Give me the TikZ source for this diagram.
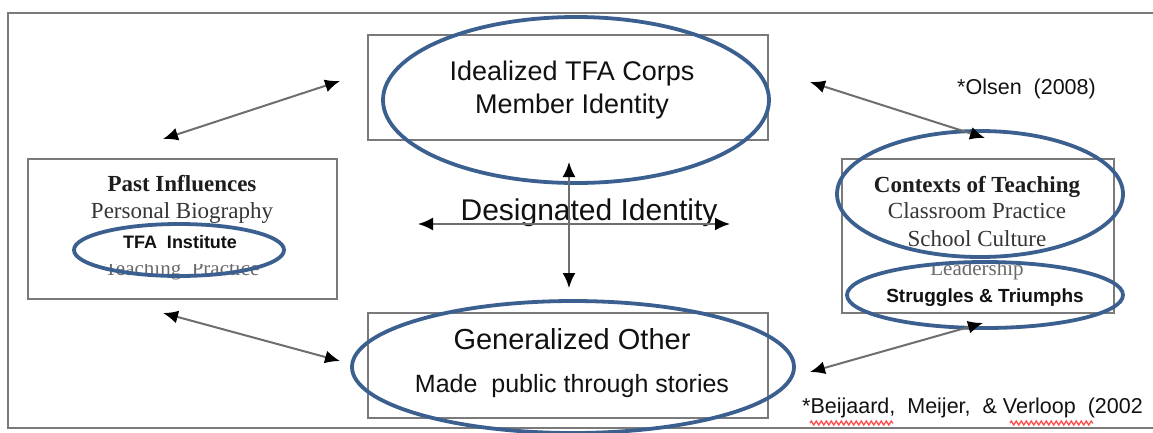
\documentclass[tikz,border=0pt]{standalone}
\usepackage{fontspec}
\setmainfont{Liberation Serif}
\setsansfont{Liberation Sans}
\usetikzlibrary{shapes.geometric,arrows.meta,decorations.pathmorphing}
\definecolor{ellblue}{HTML}{3B5F8E}
\definecolor{boxgray}{HTML}{7A7A7A}
\definecolor{argray}{HTML}{6E6E6E}
\definecolor{inkdark}{HTML}{111111}
\definecolor{serifgray}{HTML}{353535}
\definecolor{fadegray}{HTML}{6A6A6A}
\begin{document}
\begin{tikzpicture}[x=1pt,y=-1pt,
  box/.style={draw=boxgray,line width=2.6pt,rectangle,inner sep=0pt},
  ring/.style={ellipse,draw=ellblue,line width=3.8pt,inner sep=0pt},
  link/.style={draw=argray,line width=2pt,{Latex[color=black,length=15pt,width=13pt]}-{Latex[color=black,length=15pt,width=13pt]}},
  lbl/.style={inner sep=0pt,anchor=base,text=inkdark},
  big/.style={lbl,font=\sffamily\fontsize{27}{27}\selectfont},
  serifb/.style={lbl,font=\bfseries\fontsize{23}{23}\selectfont,text=inkdark!95},
  serifr/.style={lbl,font=\fontsize{23}{23}\selectfont,text=serifgray},
  small/.style={lbl,font=\sffamily\bfseries\fontsize{18}{18}\selectfont},
  cite/.style={inner sep=0pt,anchor=base west,text=inkdark,font=\sffamily\fontsize{21.5}{21.5}\selectfont},
  wavy/.style={draw=red!70,line width=1.3pt,decorate,decoration={zigzag,segment length=5pt,amplitude=2pt}}
]
\useasboundingbox (0,0) rectangle (1153,432);
\fill[white] (0,0) rectangle (1153,432);
% outer frame
\draw[boxgray,line width=2.4pt] (1160,13) -- (8,13) -- (8,428) -- (1160,428);

% boxes
\node[box,minimum width=400pt,minimum height=105pt] (topbox) at (568,87.5) {};
\node[box,minimum width=400pt,minimum height=105pt] (botbox) at (568,365.5) {};
\node[box,minimum width=309pt,minimum height=140pt] (leftbox) at (182.5,229) {};
\node[box,minimum width=272pt,minimum height=154pt] (rightbox) at (978,236) {};

% texts of the top and bottom boxes
\node[big] (t1) at (572,80) {Idealized TFA Corps};
\node[big] (t2) at (572,113) {Member Identity};
\node[big,font=\sffamily\fontsize{30}{30}\selectfont] (des) at (589,220) {Designated Identity};
\node[big,font=\sffamily\fontsize{29}{29}\selectfont] (g1) at (572,349) {Generalized Other};
\node[big,font=\sffamily\fontsize{25}{25}\selectfont] (g2) at (572,392) {Made\ \ public through stories};

% left box texts
\node[serifb] (p1) at (182,191) {Past Influences};
\node[serifr] (p2) at (182,218) {Personal Biography};
\node[serifr,text=fadegray,font=\fontsize{21}{21}\selectfont] (p4) at (182,275) {Teaching\ \ Practice};
\fill[white] (95,240) rectangle (270,264);
\node[small] (p3) at (180,248) {TFA\ \ Institute};

% right box texts
\node[serifb] (c1) at (977,192) {Contexts of Teaching};
\node[serifr] (c2) at (977,218) {Classroom Practice};
\node[serifr] (c3) at (977,246) {School Culture};
\node[serifr,text=fadegray,font=\fontsize{21}{21}\selectfont] (c4) at (977,275) {Leadership};
\fill[white] (900,252) rectangle (1060,264);
\node[small,font=\sffamily\bfseries\fontsize{19}{19}\selectfont] (c5) at (985,302) {Struggles\ \&\ Triumphs};

% ellipses
\node[ring,minimum width=386pt,minimum height=166pt] (etop) at (576,100) {};
\node[ring,minimum width=442pt,minimum height=132pt] (ebot) at (573,367) {};
\node[ring,minimum width=210pt,minimum height=52pt] (eleft) at (179,250) {};
\node[ring,minimum width=286pt,minimum height=126pt] (eright) at (980,194) {};
\node[ring,minimum width=276pt,minimum height=66pt] (eright2) at (985,295) {};

% citations
\node[cite] (olsen) at (957,94) {*Olsen\ \ (2008)};
\node[cite] (beij) at (802,413) {*Beijaard,\ \ Meijer,\ \ \&\ Verloop\ \ (2002};
\draw[wavy] (810,423) -- (893,423);
\draw[wavy] (1010,423) -- (1093,423);

% connector end points
\coordinate (a1s) at (163,139);
\coordinate (a1e) at (340,81);
\coordinate (a2s) at (163,313);
\coordinate (a2e) at (340,361);
\coordinate (a3s) at (810,82);
\coordinate (a3e) at (985,138);
\coordinate (a4s) at (983,323);
\coordinate (a4e) at (810,372);
\coordinate (vs) at (569,162);
\coordinate (ve) at (569,288);
\coordinate (hs) at (418,224);
\coordinate (he) at (730,224);

\draw[link] (a1s) -- (a1e);
\draw[link] (a2s) -- (a2e);
\draw[link] (a3s) -- (a3e);
\draw[link] (a4s) -- (a4e);
\draw[link] (vs) -- (ve);
\draw[link] (hs) -- (he);
\end{tikzpicture}
\end{document}
